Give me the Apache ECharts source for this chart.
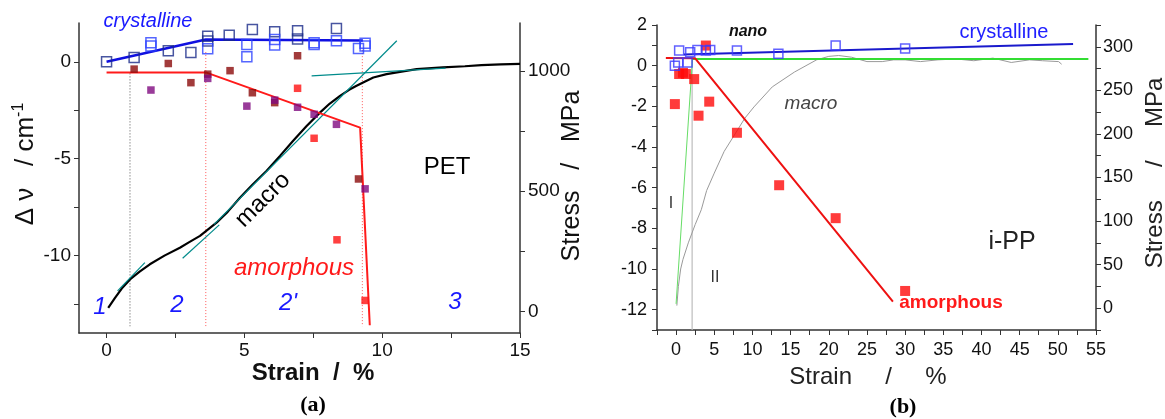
<!DOCTYPE html>
<html><head><meta charset="utf-8">
<script src="https://cdn.jsdelivr.net/npm/echarts@6/dist/echarts.min.js"></script>
<style>html,body{margin:0;padding:0;background:#fff}#c{width:1165px;height:419px}</style>
</head><body><div id="c"></div><script>
// ---------- Panel (a) PET ----------
const aXTicks = [0, 2.5, 5, 7.5, 10, 12.5, 15];
const aXLabels = [0, 5, 10, 15];
const aYTicks = [-12.5, -10, -7.5, -5, -2.5, 0];
const aYLabels = [-10, -5, 0];
const aStressTicks = [0, 250, 500, 750, 1000];
const aStressLabels = [0, 500, 1000];

const aCrystNavy = [[0,0],[1.0,0.22],[2.24,0.57],[3.06,0.48],[3.67,1.32],[3.67,1.07],[4.45,1.37],[5.29,1.67],[6.1,1.55],[6.93,1.6],[6.93,1.17],[8.34,1.72]];
const aCrystBlue = [[1.61,0.98],[1.61,0.81],[3.67,0.67],[5.09,0.89],[5.09,0.26],[6.1,0.86],[6.1,1.15],[7.53,0.89],[7.53,0.98],[8.34,1.08],[9.14,0.69],[9.38,0.81],[9.38,0.95]];
const aCrystFit = [[0,0],[3.6,1.15],[9.3,1.1]];
const aAmorMaroon = [[1.0,-0.38],[2.24,-0.09],[3.06,-1.08],[3.67,-0.64],[4.48,-0.46],[5.29,-1.6],[6.1,-2.11],[6.93,0.31],[9.14,-6.05]];
const aAmorPurple = [[1.61,-1.46],[3.67,-0.86],[5.09,-2.29],[6.1,-1.98],[6.93,-2.35],[7.53,-2.71],[8.34,-3.23],[9.38,-6.56]];
const aAmorRed = [[6.93,-1.37],[7.53,-3.95],[8.36,-9.19],[9.38,-12.32]];
const aAmorFit = [[0,-0.55],[3.6,-0.55],[9.2,-3.4],[9.55,-13.6]];
const aMacro = [[0.06,15],[0.3,55],[0.55,95],[0.85,133],[1.2,165],[1.57,196],[2.1,232],[2.66,265],[3.0,288],[3.39,314],[3.99,369],[4.4,415],[4.84,473],[5.3,528],[5.81,585],[6.3,648],[6.77,710],[7.25,770],[7.74,827],[8.1,865],[8.47,897],[8.8,922],[9.07,939],[9.4,958],[9.68,973],[10.16,987],[10.7,998],[11.25,1008],[12.2,1015],[13.0,1020],[13.6,1025],[14.3,1028],[15,1030]];
const aTan1 = [[0.4,85],[1.39,203]];
const aTan2 = [[2.76,221],[4.09,360]];
const aTan3 = [[3.9,362],[10.53,1126]];
const aTan4 = [[7.44,980],[12.3,1012]];
const aDivGrey = [[0.85,-0.6],[0.85,-13.65]];
const aDivPink1 = [[3.6,0.5],[3.6,-13.65]];
const aDivPink2 = [[9.28,0.6],[9.28,-13.65]];

// ---------- Panel (b) i-PP ----------
const bXTicks = [-2.5,0,2.5,5,7.5,10,12.5,15,17.5,20,22.5,25,27.5,30,32.5,35,37.5,40,42.5,45,47.5,50,52.5,55];
const bXLabels = [0,5,10,15,20,25,30,35,40,45,50,55];
const bYTicks = [-13,-12,-11,-10,-9,-8,-7,-6,-5,-4,-3,-2,-1,0,1,2];
const bYLabels = [-12,-10,-8,-6,-4,-2,0,2];
const bStressTicks = [-25,0,25,50,75,100,125,150,175,200,225,250,275,300,325];
const bStressLabels = [0,50,100,150,200,250,300];

const bCryst = [[-0.16,0.0],[0.28,0.16],[0.4,0.74],[1.5,0.16],[1.85,0.66],[2.8,0.77],[3.9,0.74],[4.47,0.77],[7.97,0.74],[13.4,0.58],[20.9,0.99],[30.0,0.85]];
const bCrystFit = [[1.0,0.55],[52,1.07]];
const bAmor = [[-0.16,-1.89],[0.4,-0.41],[0.9,-0.35],[1.28,-0.41],[2.37,-0.66],[2.94,-2.46],[3.9,0.99],[4.34,-1.77],[7.97,-3.3],[13.5,-5.88],[20.9,-7.5],[30.0,-11.08]];
const bAmorFit = [[-1.34,0.38],[2.5,0.36],[28.4,-11.6]];
const bMacro = [[0.1,3],[0.3,25],[0.6,45],[0.9,56],[1.6,75],[2.5,96],[3.3,113],[4.0,135],[5,155],[6.3,180],[7.8,201],[9,218],[10.2,231],[12.6,254],[15.5,271],[18.4,285],[20,289],[21.3,290],[23,288],[25,283],[27,283],[28.5,285],[30,285],[32,283],[34.3,285],[36.7,286],[39,284],[41.5,287],[43.9,282],[46.3,285],[48,284],[50.1,283],[50.5,280]];
const bElastic = [[0,5],[2.15,286]];
const bPlateau = [[2.15,286],[54,286]];
const bDivider = [[2.1,-13],[2.1,0.3]];

const FONT = 'Liberation Sans, Arial, sans-serif';
const AX = '#333';
const plain = v => String(v);

function xAxisDef(grid, min, max, ticks, labels, margin) {
  return { type:'value', gridIndex:grid, min, max,
    axisLine:{show:true, onZero:false, lineStyle:{color:AX, width:1.5}},
    axisTick:{show:true, customValues:ticks, length:5, lineStyle:{color:AX}},
    axisLabel:{customValues:labels, formatter:plain, fontSize: grid===0?19:18, color:'#111', fontFamily:FONT, margin},
    splitLine:{show:false} };
}
function yAxisDef(grid, pos, min, max, ticks, labels, fs, margin) {
  return { type:'value', gridIndex:grid, position:pos, min, max,
    axisLine:{show:true, onZero:false, lineStyle:{color:AX, width:1.5}},
    axisTick:{show:true, customValues:ticks, length:5, lineStyle:{color:AX}},
    axisLabel:{customValues:labels, formatter:plain, fontSize:fs, color:'#111', fontFamily:FONT, margin},
    splitLine:{show:false} };
}
function line(xi, yi, data, color, width, type, z) {
  return { type:'line', xAxisIndex:xi, yAxisIndex:yi, data, showSymbol:false, symbol:'none',
    lineStyle:{color, width, type:type||'solid'}, z:z||2, silent:true };
}
function scat(xi, yi, data, color, size, open, z) {
  return { type:'scatter', xAxisIndex:xi, yAxisIndex:yi, data, symbol:'rect', symbolSize:size,
    itemStyle: open ? {color:'rgba(0,0,0,0)', borderColor:color, borderWidth:1.5} : {color},
    z:z||3, silent:true };
}
function txt(x, y, text, opt) {
  return { type:'text', x, y, rotation: opt.rot||0, z:10,
    style: Object.assign({ text, fontFamily:FONT, fontSize:opt.fs||20, fill:opt.color||'#000',
      fontStyle:opt.italic?'italic':'normal', fontWeight:opt.bold?'bold':'normal',
      align:'center', verticalAlign:'middle' }, opt.style||{}) };
}

const chart = echarts.init(document.getElementById('c'), null, {renderer:'canvas'});
chart.setOption({
  animation:false,
  backgroundColor:'#fff',
  grid:[
    {left:79, right:645, top:23, bottom:86},
    {left:657, right:69, top:25, bottom:89}
  ],
  xAxis:[
    xAxisDef(0, -1, 15, aXTicks, aXLabels, 8),
    xAxisDef(1, -2.5, 55, bXTicks, bXLabels, 11)
  ],
  yAxis:[
    yAxisDef(0, 'left', -14, 2, aYTicks, aYLabels, 19, 8),
    yAxisDef(0, 'right', -90, 1200, aStressTicks, aStressLabels, 19, 8),
    yAxisDef(1, 'left', -13, 2, bYTicks, bYLabels, 18, 10),
    yAxisDef(1, 'right', -25, 325, bStressTicks, bStressLabels, 18, 7)
  ],
  series:[
    // panel a
    line(0,0,aDivGrey,'#555',1,[1,2],1),
    line(0,0,aDivPink1,'#ff5a5a',1,[1,2],1),
    line(0,0,aDivPink2,'#ff5a5a',1,[1,2],1),
    line(0,1,aMacro,'#000',2.2,'solid',2),
    line(0,1,aTan1,'#008b8b',1.2,'solid',3),
    line(0,1,aTan2,'#008b8b',1.2,'solid',3),
    line(0,1,aTan3,'#008b8b',1.2,'solid',3),
    line(0,1,aTan4,'#008b8b',1.2,'solid',3),
    line(0,0,aCrystFit,'#1010e0',2.5,'solid',4),
    line(0,0,aAmorFit,'#ff1a1a',2,'solid',4),
    scat(0,0,aCrystNavy,'#1a2a8a',10,true,5),
    scat(0,0,aCrystBlue,'#2a40ff',10,true,5),
    scat(0,0,aAmorMaroon,'#8b0a0a',7.5,false,5),
    scat(0,0,aAmorPurple,'#800a80',7.5,false,5),
    scat(0,0,aAmorRed,'#ff1010',7.5,false,5),
    // panel b
    line(1,2,bDivider,'#bdbdbd',1.2,'solid',1),
    line(1,3,bMacro,'#9a9a9a',1,'solid',2),
    line(1,3,bElastic,'#66dd66',1,'solid',2),
    line(1,3,bPlateau,'#33dd33',2,'solid',3),
    line(1,2,bCrystFit,'#1a1acc',2,'solid',4),
    line(1,2,bAmorFit,'#ee1111',2,'solid',4),
    scat(1,2,bAmor,'#ff0a0a',10,false,5),
    scat(1,2,bCryst,'#3a3aff',9,true,6)
  ],
  graphic:[
    // panel a texts
    txt(148, 21, 'crystalline', {fs:20, italic:true, color:'#1a1aff'}),
    txt(447, 167, 'PET', {fs:24}),
    txt(263, 200, 'macro', {fs:24, rot:Math.PI/4}),
    txt(294, 268, 'amorphous', {fs:24, italic:true, color:'#ff1a1a'}),
    txt(100, 307, '1', {fs:24, italic:true, color:'#1a1aff'}),
    txt(177, 305, '2', {fs:24, italic:true, color:'#1a1aff'}),
    txt(288, 303, "2'", {fs:24, italic:true, color:'#1a1aff'}),
    txt(455, 302, '3', {fs:24, italic:true, color:'#1a1aff'}),
    txt(313, 373, 'Strain  /  %', {fs:24, bold:true, color:'#111'}),
    txt(313, 405, '(a)', {fs:22, bold:true, style:{fontFamily:'Liberation Serif, Times New Roman, serif'}}),
    txt(26, 164, '{t|Δ ν   / cm}{s|-1}', {fs:26, rot:Math.PI/2, style:{rich:{t:{fontSize:26, fontFamily:FONT, fill:'#111'}, s:{fontSize:16, fontFamily:FONT, fill:'#111', verticalAlign:'top', padding:[0,0,14,0]}}}}),
    txt(572, 176, 'Stress   /   MPa', {fs:25, rot:Math.PI/2, color:'#111'}),
    // panel b texts
    txt(748, 32, 'nano', {fs:16, bold:true, italic:true, color:'#111'}),
    txt(1004, 32, 'crystalline', {fs:20, color:'#2020ff'}),
    txt(811, 104, 'macro', {fs:19, italic:true, color:'#444'}),
    txt(671, 204, 'I', {fs:16, color:'#333'}),
    txt(715, 278, 'II', {fs:16, color:'#333'}),
    txt(1012, 242, 'i-PP', {fs:25, color:'#222'}),
    txt(951, 303, 'amorphous', {fs:19, bold:true, color:'#ff1a1a'}),
    txt(868, 377, 'Strain     /     %', {fs:24, color:'#222'}),
    txt(903, 407, '(b)', {fs:22, bold:true, style:{fontFamily:'Liberation Serif, Times New Roman, serif'}}),
    txt(1155, 173, 'Stress     /     MPa', {fs:24, rot:Math.PI/2, color:'#222'})
  ]
});
</script></body></html>
